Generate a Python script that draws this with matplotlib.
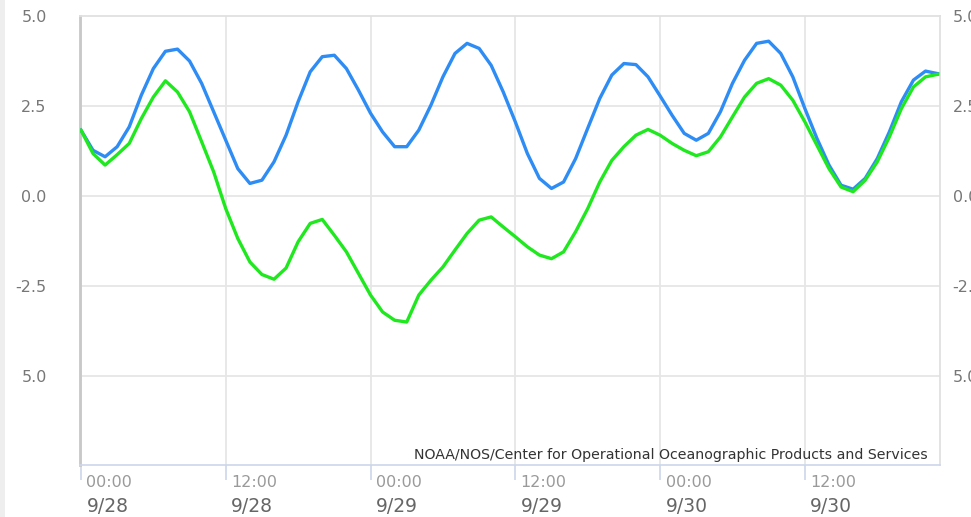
import numpy as np
import matplotlib
matplotlib.use("Agg")
import matplotlib.pyplot as plt
import matplotlib.transforms as mtransforms
from matplotlib.patches import Rectangle

# ---- data (hourly, starting 9/28 00:00) ----
predicted = [1.83, 1.27, 1.09, 1.37, 1.92, 2.80, 3.54, 4.02, 4.08, 3.75, 3.13, 2.34,
             1.55, 0.76, 0.35, 0.44, 0.95, 1.69, 2.62, 3.45, 3.87, 3.91, 3.54, 2.94,
             2.30, 1.78, 1.37, 1.37, 1.83, 2.52, 3.31, 3.96, 4.24, 4.10, 3.63, 2.89,
             2.06, 1.18, 0.49, 0.21, 0.39, 1.04, 1.88, 2.71, 3.36, 3.68, 3.65, 3.31,
             2.78, 2.24, 1.74, 1.55, 1.74, 2.34, 3.13, 3.77, 4.24, 4.30, 3.96, 3.31,
             2.43, 1.60, 0.86, 0.30, 0.19, 0.49, 1.04, 1.78, 2.62, 3.22, 3.47, 3.40]
observed = [1.83, 1.18, 0.86, 1.15, 1.46, 2.15, 2.75, 3.20, 2.89, 2.34, 1.51, 0.67,
            -0.35, -1.18, -1.83, -2.18, -2.31, -2.00, -1.27, -0.76, -0.65, -1.09, -1.55, -2.15,
            -2.75, -3.22, -3.45, -3.50, -2.75, -2.34, -1.97, -1.50, -1.04, -0.67, -0.58, -0.86,
            -1.13, -1.41, -1.64, -1.74, -1.55, -0.99, -0.35, 0.39, 0.99, 1.37, 1.69, 1.85,
            1.69, 1.46, 1.27, 1.12, 1.23, 1.64, 2.20, 2.75, 3.13, 3.26, 3.08, 2.66,
            2.06, 1.41, 0.76, 0.25, 0.12, 0.44, 0.95, 1.64, 2.43, 3.03, 3.31, 3.38]
hours = np.arange(len(predicted))

xtick_hours = [0, 12, 24, 36, 48, 60]
xtick_time = ["00:00", "12:00", "00:00", "12:00", "00:00", "12:00"]
xtick_date = ["9/28", "9/28", "9/29", "9/29", "9/30", "9/30"]
ytick_vals = [5.0, 2.5, 0.0, -2.5, -5.0]
ytick_text = ["5.0", "2.5", "0.0", "-2.5", "5.0"]
credit = "NOAA/NOS/Center for Operational Oceanographic Products and Services"

W, H = 971, 517
fig = plt.figure(figsize=(W / 100, H / 100), dpi=100)
fig.patches.append(Rectangle((0, 0), 5 / W, 1, transform=fig.transFigure,
                             facecolor="#eeeeee", edgecolor="none"))

ax = fig.add_axes([80 / W, 52 / H, 860 / W, 449 / H])
ax.set_xlim(-0.08, 71.2)
ax.set_ylim(-7.47, 5.0)

ax.plot(hours, predicted, color="#2e8cf5", lw=2.4, solid_joinstyle="round", zorder=3)
ax.plot(hours, observed, color="#1fe81f", lw=2.4, solid_joinstyle="round", zorder=3)

for y in ytick_vals[1:]:
    ax.axhline(y, color="#e6e6e6", lw=1.3, zorder=1)
for x in xtick_hours:
    ax.axvline(x, color="#e6e6e6", lw=1.3, zorder=1)

for side in ["top", "right"]:
    ax.spines[side].set_color("#e0e0e0")
    ax.spines[side].set_linewidth(1.3)
ax.spines["left"].set_color("#c8c8c8")
ax.spines["left"].set_linewidth(2)
ax.spines["bottom"].set_color("#ccd6eb")
ax.spines["bottom"].set_linewidth(1.2)

ax.set_yticks(ytick_vals)
ax.set_yticklabels(ytick_text)
ax.tick_params(axis="y", length=0, pad=24, labelsize=11.5, labelcolor="#777777")
ax.set_xticks(xtick_hours)
ax.set_xticklabels([])
ax.tick_params(axis="x", length=11, width=1.2, color="#ccd6eb", direction="out")

ax2 = ax.twinx()
ax2.set_ylim(ax.get_ylim())
ax2.set_yticks(ytick_vals)
ax2.set_yticklabels(ytick_text)
ax2.tick_params(axis="y", length=0, pad=9, labelsize=11.5, labelcolor="#777777")
for s in ax2.spines.values():
    s.set_visible(False)

trans = mtransforms.blended_transform_factory(ax.transData, ax.transAxes)
for x, t, d in zip(xtick_hours, xtick_time, xtick_date):
    ax.text(x + 0.45, -0.04, t, transform=trans, ha="left", va="center",
            fontsize=11.5, color="#9a9a9a")
    ax.text(x + 0.45, -0.093, d, transform=trans, ha="left", va="center",
            fontsize=13.5, color="#666666")

ax.text(928 / W, (H - 455) / H, credit, transform=fig.transFigure, ha="right",
        va="center", fontsize=10.2, color="#333333")

fig.savefig("out.png", dpi=100)
